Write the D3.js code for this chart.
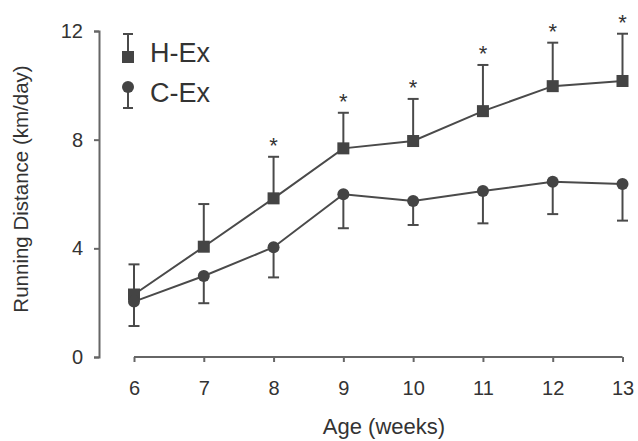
<!DOCTYPE html>
<html>
<head>
<meta charset="utf-8">
<script src="https://cdn.jsdelivr.net/npm/d3@7"></script>
<style>
  body { margin: 0; background: #fff; }
  text { font-family: Arial, "Liberation Sans", sans-serif; fill: #333; }
</style>
</head>
<body>
<div id="chart"></div>
<script>
// ages in weeks
var ages = [6, 7, 8, 9, 10, 11, 12, 13];
// H-Ex mean and upper error (mean + sd)
var hexMean = [2.3, 4.06, 5.84, 7.68, 7.95, 9.05, 9.97, 10.16];
var hexUpper = [3.41, 5.63, 7.37, 8.99, 9.5, 10.75, 11.57, 11.9];
// C-Ex mean and lower error (mean - sd)
var cexMean = [2.04, 2.98, 4.04, 5.99, 5.74, 6.11, 6.45, 6.37];
var cexLower = [1.14, 1.98, 2.93, 4.74, 4.86, 4.92, 5.26, 5.02];
// weeks flagged as significant
var starAges = [8, 9, 10, 11, 12, 13];
var yTicks = [0, 4, 8, 12];

var width = 638, height = 441;
var ink = "#4a4a4a";

var svg = d3.select("#chart").append("svg")
  .attr("width", width)
  .attr("height", height);

var x = d3.scaleLinear().domain([6, 13]).range([134, 622.5]);
var y = d3.scaleLinear().domain([0, 12]).range([357, 31]);

// y axis
var yAxis = svg.append("g")
  .attr("transform", "translate(99,0)")
  .call(d3.axisLeft(y).tickValues(yTicks).tickFormat(d3.format("d")).tickSize(5).tickPadding(11));
// x axis, detached from the y axis
var xAxis = svg.append("g")
  .attr("transform", "translate(0,357)")
  .call(d3.axisBottom(x).tickValues(ages).tickFormat(d3.format("d")).tickSize(5).tickPadding(19));

[yAxis, xAxis].forEach(function(a) {
  a.select(".domain").attr("stroke", "#666").attr("stroke-width", 2);
  a.selectAll(".tick line").attr("stroke", "#666").attr("stroke-width", 2);
  a.selectAll(".tick text").style("font-size", "20px").attr("fill", "#3a3a3a");
});
xAxis.select(".domain").attr("d", "M" + x(6) + ",0H" + x(13));

// axis titles
svg.append("text")
  .attr("x", 384).attr("y", 434)
  .attr("text-anchor", "middle")
  .style("font-size", "22px")
  .text("Age (weeks)");
svg.append("text")
  .attr("transform", "translate(28,189) rotate(-90)")
  .attr("text-anchor", "middle")
  .style("font-size", "20.5px")
  .text("Running Distance (km/day)");

var line = d3.line();

// error bars
function errorBars(means, ends) {
  var g = svg.append("g").attr("stroke", ink).attr("stroke-width", 2);
  ages.forEach(function(a, i) {
    g.append("line")
      .attr("x1", x(a)).attr("x2", x(a))
      .attr("y1", y(means[i])).attr("y2", y(ends[i]));
    g.append("line")
      .attr("x1", x(a) - 5.5).attr("x2", x(a) + 5.5)
      .attr("y1", y(ends[i])).attr("y2", y(ends[i]));
  });
}
errorBars(hexMean, hexUpper);
errorBars(cexMean, cexLower);

// lines
svg.append("path")
  .attr("d", line(ages.map(function(a, i) { return [x(a), y(hexMean[i])]; })))
  .attr("fill", "none").attr("stroke", ink).attr("stroke-width", 2);
svg.append("path")
  .attr("d", line(ages.map(function(a, i) { return [x(a), y(cexMean[i])]; })))
  .attr("fill", "none").attr("stroke", ink).attr("stroke-width", 2);

// markers
svg.append("g").selectAll("rect")
  .data(ages)
  .enter().append("rect")
  .attr("x", function(d) { return x(d) - 6; })
  .attr("y", function(d, i) { return y(hexMean[i]) - 6; })
  .attr("width", 12).attr("height", 12)
  .attr("fill", "#444");
svg.append("g").selectAll("circle")
  .data(ages)
  .enter().append("circle")
  .attr("cx", function(d) { return x(d); })
  .attr("cy", function(d, i) { return y(cexMean[i]); })
  .attr("r", 6)
  .attr("fill", "#444");

// significance stars
svg.append("g").selectAll("text")
  .data(starAges)
  .enter().append("text")
  .attr("x", function(d) { return x(d); })
  .attr("y", function(d) { return y(hexUpper[ages.indexOf(d)]) - 4; })
  .attr("text-anchor", "middle")
  .style("font-size", "22px")
  .text("*");

// legend
var lg = svg.append("g").attr("stroke", ink).attr("stroke-width", 2);
lg.append("line").attr("x1", 128).attr("x2", 128).attr("y1", 34).attr("y2", 57);
lg.append("line").attr("x1", 123).attr("x2", 133).attr("y1", 34).attr("y2", 34);
lg.append("line").attr("x1", 128).attr("x2", 128).attr("y1", 87).attr("y2", 108);
lg.append("line").attr("x1", 123).attr("x2", 133).attr("y1", 108).attr("y2", 108);
svg.append("rect").attr("x", 122).attr("y", 51).attr("width", 12).attr("height", 12).attr("fill", "#444");
svg.append("circle").attr("cx", 128).attr("cy", 87).attr("r", 6).attr("fill", "#444");
svg.append("text").attr("x", 150).attr("y", 62).style("font-size", "27px").text("H-Ex");
svg.append("text").attr("x", 150).attr("y", 101.5).style("font-size", "27px").text("C-Ex");
</script>
</body>
</html>
